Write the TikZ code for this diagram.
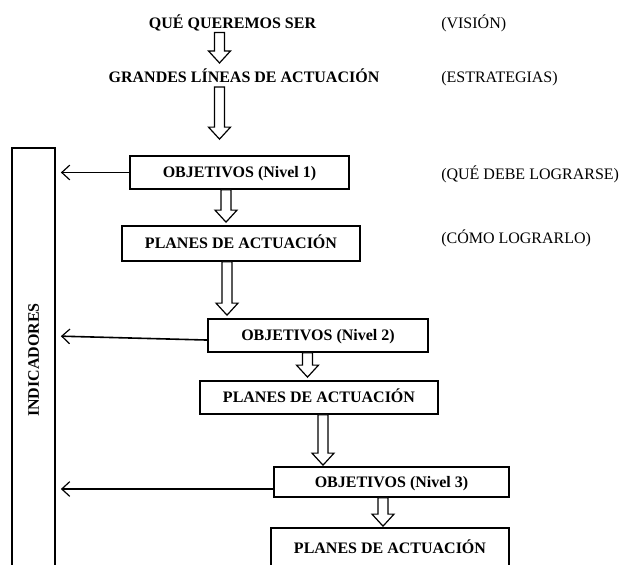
\documentclass[tikz,border=0pt]{standalone}
\usepackage{fontspec}
\setmainfont{Liberation Serif}
\usetikzlibrary{arrows.meta,calc}
\tikzset{
  txt/.style={inner sep=0pt, text height=7.9pt, text depth=0pt, font=\fontsize{12}{14}\selectfont},
  lbl/.style={txt, font=\fontsize{12}{14}\selectfont\bfseries},
  note/.style={txt, anchor=west},
  box/.style={draw, line width=1.3pt, inner sep=0pt, text height=7.9pt, text depth=0pt,
    font=\fontsize{12}{14}\selectfont\bfseries},
  fat/.style={draw, fill=white, line width=0.9pt, line join=miter},
  toind/.style={line width=1.2pt, shorten >=3.75pt,
    -{Straight Barb[length=6pt,width=11pt,line width=0.9pt]}}
}
% #1 x (px), #2 start point, #3 end point, #4 top gap (px), #5 tip gap (px)
\newcommand\fatarrow[5]{%
  \draw[fat] let \p1=(#2), \p2=(#3) in
    ({(#1-5)*0.75pt},{\y1-#4*0.75pt}) -- ({(#1+5)*0.75pt},{\y1-#4*0.75pt})
    -- ({(#1+5)*0.75pt},{\y2+(#5+12)*0.75pt}) -- ({(#1+11)*0.75pt},{\y2+(#5+12)*0.75pt})
    -- ({#1*0.75pt},{\y2+#5*0.75pt})
    -- ({(#1-11)*0.75pt},{\y2+(#5+12)*0.75pt}) -- ({(#1-5)*0.75pt},{\y2+(#5+12)*0.75pt})
    -- cycle;}
\begin{document}
\begin{tikzpicture}[x=0.75pt,y=-0.75pt]
\useasboundingbox (0,0) rectangle (624,564);
\clip (0,0) rectangle (624,564);

% titles
\node[lbl] (t1) at (232.5,23) {QUÉ QUEREMOS SER};
\node[note] (n1) at (441,23) {(VISIÓN)};
\node[lbl] (t2) at (244,77.5) {GRANDES LÍNEAS DE ACTUACIÓN};
\node[note] (n2) at (441,77) {(ESTRATEGIAS)};

% boxes
\node[box, minimum width=219*0.75pt, minimum height=33*0.75pt] (obj1) at (239.5,172.5) {OBJETIVOS (Nivel 1)};
\node[note] (n3) at (441,174) {(QUÉ DEBE LOGRARSE)};
\node[box, minimum width=238*0.75pt, minimum height=35*0.75pt] (plan1) at (241,243.5) {PLANES DE ACTUACIÓN};
\node[note] (n4) at (441,238) {(CÓMO LOGRARLO)};
\node[box, minimum width=220*0.75pt, minimum height=33*0.75pt] (obj2) at (318,335.5) {OBJETIVOS (Nivel 2)};
\node[box, minimum width=238*0.75pt, minimum height=33*0.75pt] (plan2) at (319,397.5) {PLANES DE ACTUACIÓN};
\node[box, minimum width=235*0.75pt, minimum height=30*0.75pt] (obj3) at (391.5,482) {OBJETIVOS (Nivel 3)};
\node[box, minimum width=238*0.75pt, minimum height=40*0.75pt] (plan3) at (390,548) {PLANES DE ACTUACIÓN};

% indicadores column
\node[box, rotate=90, minimum width=424*0.75pt, minimum height=43*0.75pt] (ind) at (33.5,360) {INDICADORES};

% hollow arrows
\fatarrow{219.5}{t1.south}{t2.north}{4}{9}
\fatarrow{219.5}{t2.south}{obj1.north}{4}{16}
\fatarrow{226}{obj1.south}{plan1.north}{0}{3}
\fatarrow{227}{plan1.south}{obj2.north}{0}{3}
\fatarrow{307.5}{obj2.south}{plan2.north}{0}{3}
\fatarrow{323}{plan2.south}{obj3.north}{0}{1}
\fatarrow{383}{obj3.south}{plan3.north}{0}{1}

% arrows to indicadores
\draw[toind] (obj1.west) -- (obj1.west -| ind.south);
\draw[toind] ([yshift=-3.4pt]obj2.west) coordinate (s2) -- ([yshift=3pt]s2 -| ind.south);
\draw[toind] ([yshift=-5.25pt]obj3.west) coordinate (s3) -- (s3 -| ind.south);
\end{tikzpicture}
\end{document}
